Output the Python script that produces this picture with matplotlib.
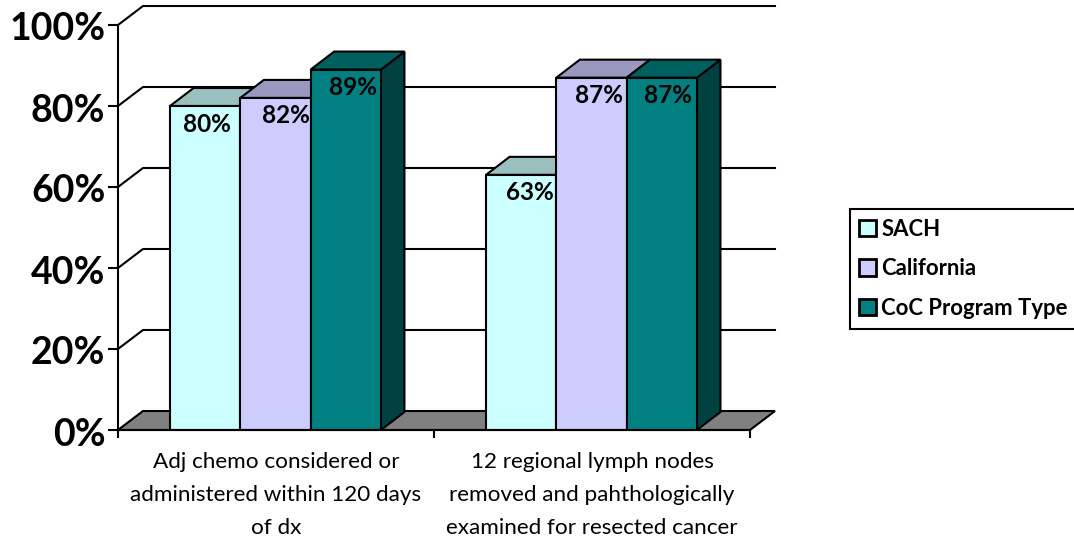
import matplotlib
matplotlib.use('Agg')
import matplotlib.pyplot as plt
from matplotlib.patches import Patch, Polygon
from matplotlib.transforms import ScaledTranslation

categories = ['Adj chemo considered or\nadministered within 120 days\nof dx',
              '12 regional lymph nodes\nremoved and pahthologically\nexamined for resected cancer']
series_names = ['SACH', 'California', 'CoC Program Type']
sach = [80, 63]
california = [82, 87]
coc = [89, 87]
y_ticks = [0, 20, 40, 60, 80, 100]

front_colors = ['#CCFFFF', '#CCCCFF', '#008080']
top_colors = ['#99BFBF', '#9999BF', '#006060']
side_colors = ['#669090', '#666690', '#004040']

plt.rcParams['font.family'] = ['Lato', 'DejaVu Sans']

W, H = 1074, 539
fig = plt.figure(figsize=(W / 100, H / 100), dpi=100)
ax = fig.add_axes([118 / W, 1 - 430 / H, 632 / W, 405 / H])
ax.set_xlim(0, 2)
ax.set_ylim(0, 100)
ax.patch.set_visible(False)

px_x = 2 / 632
px_y = 100 / 405
wall_x, wall_y = 25 * px_x, 19 * px_y
bar_x, bar_y = 23.5 * px_x, 18 * px_y
bar_w = 70.3 * px_x
lw = 1.5

# floor
ax.add_patch(Polygon([(0, 0), (wall_x, wall_y), (2 + wall_x, wall_y), (2, 0)],
                     facecolor='#808080', edgecolor='black', lw=lw, zorder=1, clip_on=False))

# back wall grid and left side lines
for t in y_ticks[1:]:
    ax.plot([0, wall_x, 2 + wall_x], [t, t + wall_y, t + wall_y], color='black',
            lw=lw, clip_on=False, zorder=1)

label_shift = [[2, 10, 7], [9, 7, 6]]
z = 3
for s, values in enumerate([sach, california, coc]):
    for c, v in enumerate(values):
        x0 = c + 0.5 + (s - 1.5) * bar_w - 0.5 * px_x
        x1 = x0 + bar_w
        ax.add_patch(Polygon([(x1, 0), (x1 + bar_x, bar_y), (x1 + bar_x, v + bar_y), (x1, v)],
                             facecolor=side_colors[s], edgecolor='black', lw=lw, zorder=z, clip_on=False))
        ax.add_patch(Polygon([(x0, v), (x0 + bar_x, v + bar_y), (x1 + bar_x, v + bar_y), (x1, v)],
                             facecolor=top_colors[s], edgecolor='black', lw=lw, zorder=z, clip_on=False))
        ax.bar(x0, v, width=bar_w, align='edge', color=front_colors[s], edgecolor='black',
               lw=lw, zorder=z + 0.5)
        ax.text(x0 + bar_w / 2 + label_shift[c][s] * px_x, v - 18 * px_y, f'{v}%',
                ha='center', va='center', fontsize=17.5, fontweight='bold', zorder=20)
    z += 1

for side in ['top', 'right']:
    ax.spines[side].set_visible(False)
for side in ['left', 'bottom']:
    ax.spines[side].set_linewidth(lw)
    ax.spines[side].set_zorder(10)

ax.set_yticks(y_ticks)
ax.set_yticklabels([f'{t}%' for t in y_ticks], fontsize=27, fontweight='bold')
ax.tick_params(axis='y', length=7.5, width=lw, pad=1.5)
nudge = ScaledTranslation(0, -1.5 / 100, fig.dpi_scale_trans)
for label in ax.get_yticklabels():
    label.set_transform(label.get_transform() + nudge)
ax.set_xticks([0, 1, 2])
ax.set_xticklabels(['', '', ''])
ax.tick_params(axis='x', which='major', length=6, width=lw)
ax.set_xticks([0.5, 1.5], minor=True)
ax.set_xticklabels(categories, minor=True, fontsize=16.2, linespacing=1.8)
ax.tick_params(axis='x', which='minor', length=0, pad=16)

handles = [Patch(facecolor=front_colors[i], edgecolor='black', lw=2, label=series_names[i])
           for i in range(3)]
# legend box runs off the right edge like the original
leg = fig.legend(handles=handles, loc='upper left', mode='expand',
                 bbox_to_anchor=(849.5 / W, 1 - 209 / H, 240 / W, 0),
                 bbox_transform=fig.transFigure, borderaxespad=0, fancybox=False, framealpha=1,
                 edgecolor='black', prop={'size': 15.9, 'weight': 'bold'},
                 handlelength=0.75, handleheight=0.75, handletextpad=0.23, labelspacing=0.83,
                 borderpad=0.45)
leg.get_frame().set_linewidth(lw)

fig.savefig('out.png', dpi=100)
